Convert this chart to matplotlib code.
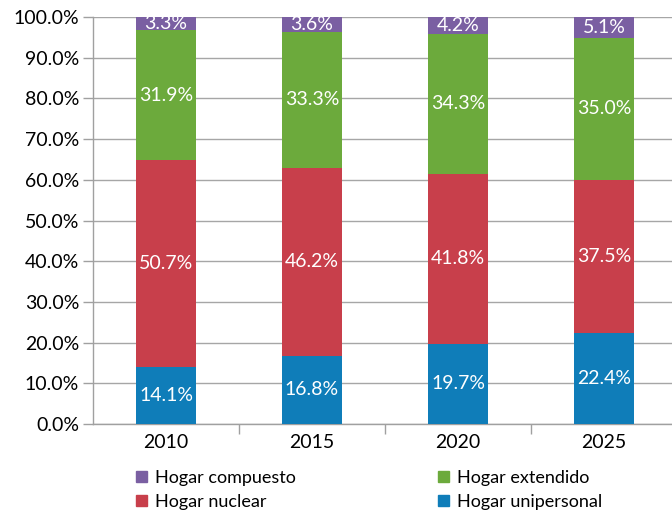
import matplotlib
matplotlib.use("Agg")
import matplotlib.pyplot as plt
from matplotlib.patches import Patch
import numpy as np

plt.rcParams['font.family'] = ['Lato', 'DejaVu Sans']

years = ["2010", "2015", "2020", "2025"]
unipersonal = [14.1, 16.8, 19.7, 22.4]
nuclear = [50.7, 46.2, 41.8, 37.5]
extendido = [31.9, 33.3, 34.3, 35.0]
compuesto = [3.3, 3.6, 4.2, 5.1]

series = [
    ("Hogar unipersonal", unipersonal, "#0F7DB9"),
    ("Hogar nuclear", nuclear, "#C83F4B"),
    ("Hogar extendido", extendido, "#6CAA3C"),
    ("Hogar compuesto", compuesto, "#7A5FA2"),
]

FS = 14
fig = plt.figure(figsize=(6.72, 5.15), dpi=100)
W, H = 672, 515
ax = fig.add_axes([93 / W, 1 - 424 / H, 584 / W, 407 / H])

x = np.arange(len(years))
bottom = np.zeros(len(years))
for name, vals, col in series:
    v = np.array(vals)
    ax.bar(x, v, width=0.405, bottom=bottom, color=col, zorder=3, label=name)
    for xi, b, vi in zip(x, bottom, v):
        ax.text(xi, b + vi / 2, f"{vi:.1f}%", ha="center", va="center",
                color="white", fontsize=FS, zorder=4)
    bottom += v

ax.set_xlim(-0.5, 3.5)
ax.set_ylim(0, 100)
ax.set_yticks(np.arange(0, 101, 10))
ax.set_yticklabels([f"{t:.1f}%" for t in np.arange(0, 101, 10)], fontsize=FS)
ax.set_xticks(x)
ax.set_xticklabels(years, fontsize=FS)
ax.set_xticks([0.5, 1.5, 2.5], minor=True)
ax.tick_params(axis="x", which="major", length=0, pad=7)
ax.tick_params(axis="x", which="minor", length=7, color="#A0A0A0", width=1)
ax.tick_params(axis="y", length=7, color="#A0A0A0", width=1, pad=3)
ax.grid(axis="y", color="#A6A6A6", linewidth=1, zorder=0)
for s in ["top", "right"]:
    ax.spines[s].set_visible(False)
for s in ["left", "bottom"]:
    ax.spines[s].set_color("#A0A0A0")
    ax.spines[s].set_linewidth(1)

handles = [Patch(color=series[3][2]), Patch(color=series[1][2]),
           Patch(color=series[2][2]), Patch(color=series[0][2])]
labels = [series[3][0], series[1][0], series[2][0], series[0][0]]
fig.legend(handles, labels, ncol=2, loc="center left",
           bbox_to_anchor=(136 / W, 1 - 490 / H), borderpad=0, borderaxespad=0,
           frameon=False, fontsize=13, handlelength=0.6, handleheight=0.6,
           handletextpad=0.45, columnspacing=7.9, labelspacing=0.45)

fig.savefig("out.png", dpi=100)
